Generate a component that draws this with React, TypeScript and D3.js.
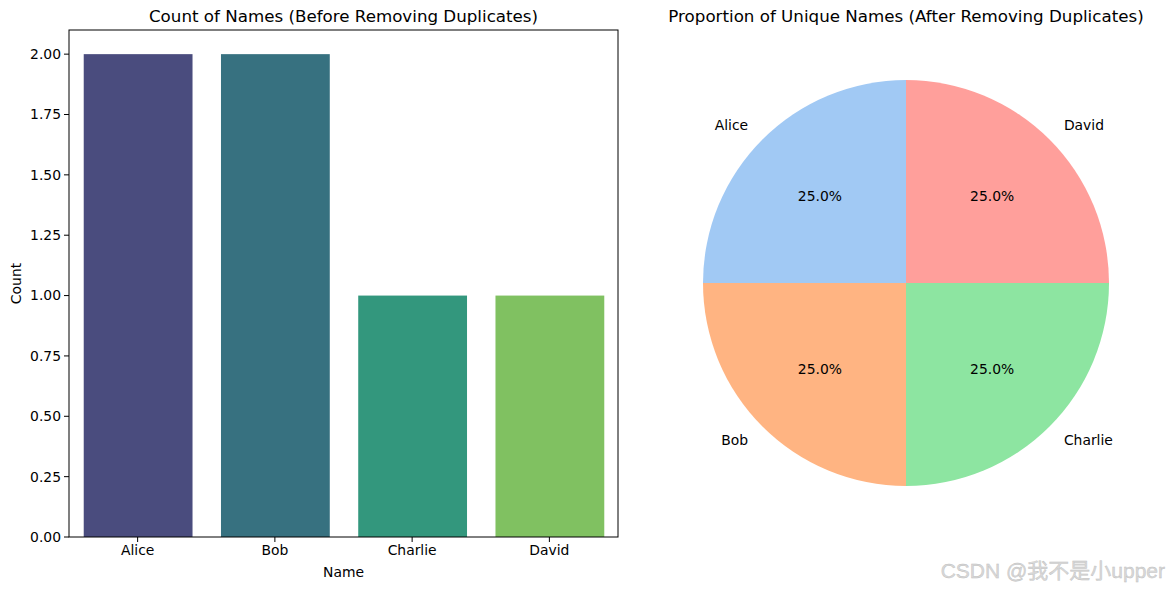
import React from "react";
import * as d3 from "d3";

const names = ["Alice", "Bob", "Charlie", "David"];
const counts = [2, 2, 1, 1];
const barColors = ["#4a4c7e", "#377180", "#33977d", "#80c161"];
const yTicks = [0, 0.25, 0.5, 0.75, 1.0, 1.25, 1.5, 1.75, 2.0];
const pieNames = ["Alice", "Bob", "Charlie", "David"];
const pieValues = [1, 1, 1, 1];
const pieColors = ["#a1c9f4", "#ffb482", "#8de5a1", "#ff9f9b"];

const FONT = "DejaVu Sans, sans-serif";

export default function App() {
  const W = 1169, H = 590;
  const left = 69, right = 618, top = 30, bottom = 537;
  const x = d3.scaleBand<string>().domain(names).range([left, right]).paddingInner(0.2).paddingOuter(0.1);
  const y = d3.scaleLinear().domain([0, 2.1]).range([bottom, top]);
  const xc = d3.scaleBand<string>().domain(names).range([left, right]);

  const cx = 906, cy = 283, r = 203;
  const pie = d3.pie<number>().sort(null).startAngle(0).endAngle(-2 * Math.PI)(pieValues);
  const arc = d3.arc<d3.PieArcDatum<number>>().innerRadius(0).outerRadius(r);

  return (
    <svg width={W} height={H} style={{ position: "absolute", left: 0, top: 0, background: "#fff" }} fontFamily={FONT}>
      <rect width={W} height={H} fill="#fff" />
      {names.map((n, i) => (
        <rect key={n} x={x(n)! + 1} y={y(counts[i])} width={x.bandwidth() - 1} height={y(0) - y(counts[i])} fill={barColors[i]} />
      ))}
      <rect x={left} y={top} width={right - left} height={bottom - top} fill="none" stroke="#000" strokeWidth={1} />
      {yTicks.map((t) => (
        <g key={t}>
          <line x1={left - 5} x2={left} y1={y(t)} y2={y(t)} stroke="#000" />
          <text x={left - 8} y={y(t)} dy="0.35em" textAnchor="end" fontSize={13.9}>{t.toFixed(2)}</text>
        </g>
      ))}
      {names.map((n) => {
        const px = xc(n)! + xc.bandwidth() / 2;
        return (
          <g key={n}>
            <line x1={px} x2={px} y1={bottom} y2={bottom + 5} stroke="#000" />
            <text x={px} y={bottom + 18} textAnchor="middle" fontSize={13.9}>{n}</text>
          </g>
        );
      })}
      <text x={(left + right) / 2} y={577} textAnchor="middle" fontSize={13.9}>Name</text>
      <text transform={`translate(21,${(top + bottom) / 2}) rotate(-90)`} textAnchor="middle" fontSize={13.9}>Count</text>
      <text x={(left + right) / 2} y={22} textAnchor="middle" fontSize={16.7}>Count of Names (Before Removing Duplicates)</text>

      <g transform={`translate(${cx},${cy})`}>
        {pie.map((d, i) => (
          <path key={i} d={arc(d)!} fill={pieColors[i]} />
        ))}
        {pie.map((d, i) => {
          const mid = (d.startAngle + d.endAngle) / 2;
          const lx = 1.1 * r * Math.sin(mid);
          const ly = -1.1 * r * Math.cos(mid);
          const px = 0.6 * r * Math.sin(mid);
          const py = -0.6 * r * Math.cos(mid);
          const pct = (100 * pieValues[i]) / d3.sum(pieValues);
          return (
            <g key={"l" + i}>
              <text x={lx} y={ly} dy="0.32em" textAnchor={lx > 0 ? "start" : "end"} fontSize={13.9}>{pieNames[i]}</text>
              <text x={px} y={py} dy="0.32em" textAnchor="middle" fontSize={13.9}>{pct.toFixed(1) + "%"}</text>
            </g>
          );
        })}
      </g>
      <text x={cx} y={22} textAnchor="middle" fontSize={16.7}>Proportion of Unique Names (After Removing Duplicates)</text>

      <text x={1165} y={578} textAnchor="end" fontSize={21} fontFamily="Liberation Sans, Noto Sans CJK SC, sans-serif" fill="#d9d9d9" stroke="#bdbdbd" strokeWidth={0.4}>CSDN @我不是小upper</text>
    </svg>
  );
}
